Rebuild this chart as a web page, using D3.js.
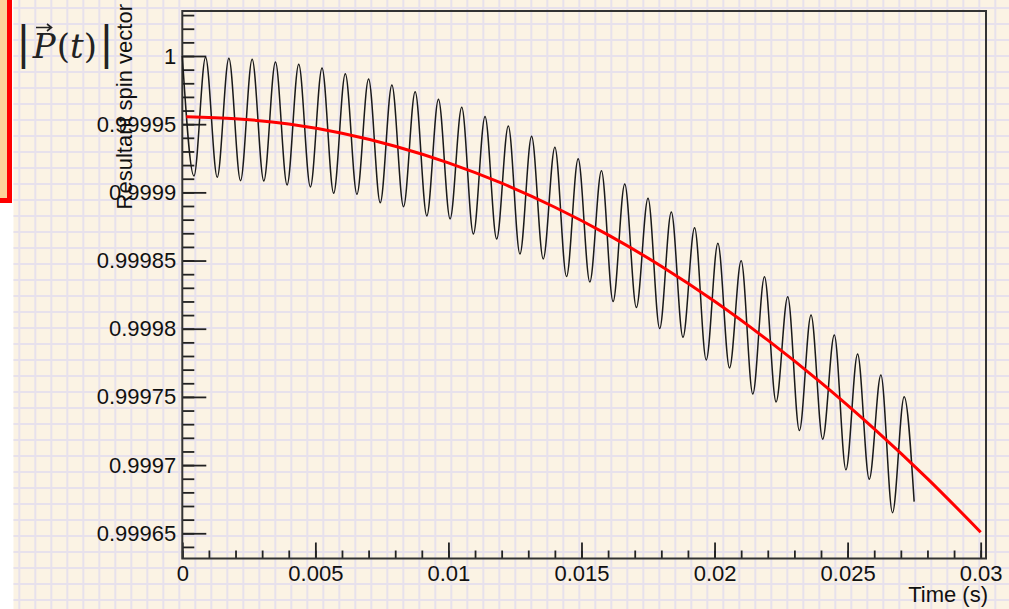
<!DOCTYPE html>
<html>
<head>
<meta charset="utf-8">
<script src="https://cdn.jsdelivr.net/npm/d3@7"></script>
<style>
body { margin: 0; background: #fff; }
svg { display: block; }
</style>
</head>
<body>
<script>
// oscillating |P(t)| : maxima and minima (time in ms)
var peakMs = [0, 0.875, 1.75, 2.625, 3.5, 4.375, 5.25, 6.125, 7, 7.875, 8.75, 9.625,
              10.5, 11.375, 12.25, 13.125, 14, 14.875, 15.75, 16.625, 17.5, 18.375,
              19.25, 20.125, 21, 21.875, 22.75, 23.625, 24.5, 25.375, 26.25, 27.125];
var peakVal = [1.0000000, 0.9999990, 0.9999983, 0.9999976, 0.9999956, 0.9999939,
               0.9999912, 0.9999870, 0.9999831, 0.9999787, 0.9999738, 0.9999683,
               0.9999624, 0.9999556, 0.9999487, 0.9999411, 0.9999331, 0.9999246,
               0.9999159, 0.9999062, 0.9998957, 0.9998856, 0.9998741, 0.9998627,
               0.9998499, 0.9998382, 0.9998235, 0.9998101, 0.9997954, 0.9997815,
               0.9997661, 0.9997502];
var troughMs = [0.4375, 1.3125, 2.1875, 3.0625, 3.9375, 4.8125, 5.6875, 6.5625,
                7.4375, 8.3125, 9.1875, 10.0625, 10.9375, 11.8125, 12.6875, 13.5625,
                14.4375, 15.3125, 16.1875, 17.0625, 17.9375, 18.8125, 19.6875, 20.5625,
                21.4375, 22.3125, 23.1875, 24.0625, 24.9375, 25.8125, 26.6875];
var troughVal = [0.9999120, 0.9999111, 0.9999086, 0.9999083, 0.9999054, 0.9999040,
                 0.9998993, 0.9998986, 0.9998924, 0.9998895, 0.9998827, 0.9998805,
                 0.9998695, 0.9998658, 0.9998548, 0.9998512, 0.9998383, 0.9998343,
                 0.9998199, 0.9998155, 0.9998001, 0.9997938, 0.9997771, 0.9997712,
                 0.9997522, 0.9997463, 0.9997253, 0.9997190, 0.9996965, 0.9996896,
                 0.9996651];
var lastMs = 27.5, lastVal = 0.9996732;

// smooth red curve
var meanMs = [0.15, 2, 4, 6, 8, 10, 12, 14, 16, 18, 20, 22, 24, 26, 28, 30];
var meanVal = [0.9999555, 0.9999540, 0.9999501, 0.9999433, 0.9999338, 0.9999216,
               0.9999067, 0.9998891, 0.9998688, 0.9998458, 0.9998201, 0.9997916,
               0.9997605, 0.9997266, 0.9996901, 0.9996508];

var xTicks = [0, 0.005, 0.01, 0.015, 0.02, 0.025, 0.03];
var xTickLabels = ["0", "0.005", "0.01", "0.015", "0.02", "0.025", "0.03"];
var yTicks = [0.99965, 0.9997, 0.99975, 0.9998, 0.99985, 0.9999, 0.99995, 1];
var yTickLabels = ["0.99965", "0.9997", "0.99975", "0.9998", "0.99985", "0.9999", "0.99995", "1"];

var W = 1009, H = 609;
var font = "'Liberation Sans', Arial, sans-serif";

var svg = d3.select("body").append("svg")
            .attr("width", W)
            .attr("height", H);

svg.append("rect").attr("width", W).attr("height", H).attr("fill", "#fff");
svg.append("rect").attr("x", 13.5).attr("width", W - 13.5).attr("height", H).attr("fill", "#fbf3e4");

// graph paper
var grid = svg.append("g").attr("stroke", "#e7e1ec").attr("stroke-width", 2);
grid.selectAll("line.v").data(d3.range(19.3, W, 16)).enter().append("line")
    .attr("x1", function (d) { return d; }).attr("x2", function (d) { return d; })
    .attr("y1", 0).attr("y2", H);
grid.selectAll("line.h").data(d3.range(8, H, 16)).enter().append("line")
    .attr("x1", 13.5).attr("x2", W)
    .attr("y1", function (d) { return d; }).attr("y2", function (d) { return d; });

// red box on the left edge
svg.append("rect").attr("x", -40).attr("y", -10).attr("width", 49.5).attr("height", 210.5)
   .attr("fill", "#fdd19a").attr("stroke", "#ff0000").attr("stroke-width", 5);

// |P(t)| label
var lab = svg.append("text").attr("x", 16).attr("y", 58)
             .attr("font-family", "'DejaVu Serif', serif").attr("font-size", 34).attr("fill", "#222");
lab.append("tspan").attr("font-size", 44).text("|");
lab.append("tspan").attr("font-style", "italic").attr("dx", 2).text("P");
lab.append("tspan").attr("dx", 1).text("(");
lab.append("tspan").attr("font-style", "italic").text("t");
lab.append("tspan").text(")");
lab.append("tspan").attr("font-size", 44).attr("dx", 2).text("|");
svg.append("path").attr("d", "M36,27.5H51M47,24L51.5,27.5L47,31")
   .attr("fill", "none").attr("stroke", "#222").attr("stroke-width", 1.6);

var x = d3.scaleLinear().domain([0, 0.0302]).range([182.3, 986]);
var y = d3.scaleLinear().domain([0.9996315, 1.000033]).range([558.5, 11]);

// minor ticks
svg.append("g").attr("transform", "translate(0,558.5)")
   .call(d3.axisBottom(x).tickValues(d3.range(0, 31).map(function (i) { return i / 1000; }))
           .tickSize(-8).tickSizeOuter(0).tickFormat(""))
   .call(function (g) { g.select(".domain").remove(); });
svg.append("g").attr("transform", "translate(182.3,0)")
   .call(d3.axisLeft(y).tickValues(d3.range(-36, 4).map(function (i) { return 1 + i * 1e-5; }))
           .tickSize(-12).tickSizeOuter(0).tickFormat(""))
   .call(function (g) { g.select(".domain").remove(); });

// major ticks with labels
var xAxis = svg.append("g").attr("transform", "translate(0,558.5)")
   .call(d3.axisBottom(x).tickValues(xTicks).tickSize(-16).tickSizeOuter(0).tickPadding(7)
           .tickFormat(function (d, i) { return xTickLabels[i]; }));
var yAxis = svg.append("g").attr("transform", "translate(182.3,0)")
   .call(d3.axisLeft(y).tickValues(yTicks).tickSize(-24).tickSizeOuter(0).tickPadding(6)
           .tickFormat(function (d, i) { return yTickLabels[i]; }));

svg.selectAll(".tick line").attr("stroke", "#222").attr("stroke-width", 1.8);
svg.selectAll(".domain").remove();
svg.selectAll(".tick text").attr("font-family", font).attr("font-size", 22).attr("fill", "#111");

// frame
svg.append("rect").attr("x", 182.3).attr("y", 11).attr("width", 803.7).attr("height", 547.5)
   .attr("fill", "none").attr("stroke", "#333").attr("stroke-width", 2);

// curves
var osc = [];
peakMs.forEach(function (t, i) { osc.push([t, peakVal[i]]); });
troughMs.forEach(function (t, i) { osc.push([t, troughVal[i]]); });
osc.push([lastMs, lastVal]);
osc.sort(function (a, b) { return a[0] - b[0]; });

var line = d3.line()
             .x(function (d) { return x(d[0] / 1000); })
             .y(function (d) { return y(d[1]); })
             .curve(d3.curveMonotoneX);

svg.append("path").datum(osc).attr("d", line)
   .attr("fill", "none").attr("stroke", "#1a1a1a").attr("stroke-width", 1.5);

svg.append("path").datum(meanMs.map(function (t, i) { return [t, meanVal[i]]; })).attr("d", line)
   .attr("fill", "none").attr("stroke", "#ff0000").attr("stroke-width", 3);

// axis titles
svg.append("text").attr("x", 988).attr("y", 602).attr("text-anchor", "end")
   .attr("font-family", font).attr("font-size", 22).attr("fill", "#111").text("Time (s)");
svg.append("text").attr("transform", "translate(131.5,4) rotate(-90)").attr("text-anchor", "end")
   .attr("font-family", font).attr("font-size", 22).attr("fill", "#111").text("Resultant spin vector");
</script>
</body>
</html>
